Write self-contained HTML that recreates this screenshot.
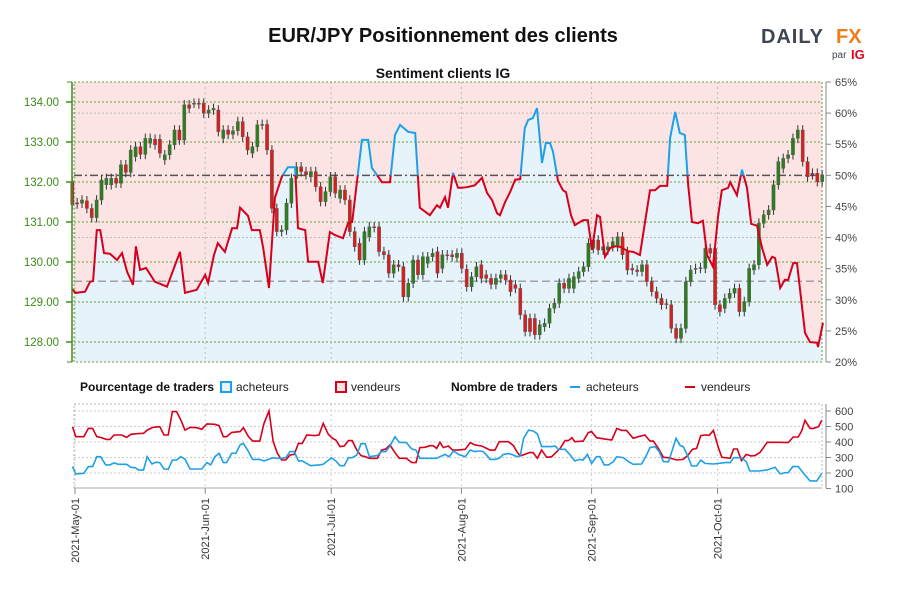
<!DOCTYPE html>
<html><head><meta charset="utf-8"><style>
body{margin:0;background:#fff;width:900px;height:600px;overflow:hidden;font-family:"Liberation Sans",sans-serif}
svg text{font-family:"Liberation Sans",sans-serif}
</style></head><body>
<svg id="c" width="900" height="600" viewBox="0 0 900 600" xmlns="http://www.w3.org/2000/svg">
<text x="443" y="42" text-anchor="middle" font-size="20" font-weight="bold" fill="#111">EUR/JPY Positionnement des clients</text>
<g>
<text x="761" y="43" font-size="20" font-weight="bold" fill="#3e4652" textLength="62" lengthAdjust="spacing">DAILY</text>
<text x="836" y="43" font-size="20" font-weight="bold" fill="#f07d1a">FX</text>
<text x="832" y="58" font-size="10" fill="#3e4652">par</text>
<text x="851" y="59" font-size="13" font-weight="bold" fill="#e2001a">IG</text>
</g>
<text x="443" y="78" text-anchor="middle" font-size="14" font-weight="bold" fill="#111">Sentiment clients IG</text>
<g id="main"></g>
<g id="legend">
<text x="80" y="391" font-size="12" font-weight="bold" fill="#111">Pourcentage de traders</text>
<rect x="221" y="382" width="10" height="10" fill="#e6f3fb" stroke="#1ea0e6" stroke-width="2"/>
<text x="236" y="391" font-size="12" fill="#222">acheteurs</text>
<rect x="336" y="382" width="10" height="10" fill="#fbe3e3" stroke="#d6001c" stroke-width="2"/>
<text x="351" y="391" font-size="12" fill="#222">vendeurs</text>
<text x="451" y="391" font-size="12" font-weight="bold" fill="#111">Nombre de traders</text>
<line x1="570" y1="387" x2="580" y2="387" stroke="#1ea0e6" stroke-width="2"/>
<text x="586" y="391" font-size="12" fill="#222">acheteurs</text>
<line x1="685" y1="387" x2="695" y2="387" stroke="#d6001c" stroke-width="2"/>
<text x="701" y="391" font-size="12" fill="#222">vendeurs</text>
</g>
<g id="bottom"></g>
</svg>
<script>
// ---- data ----
const monthLabels=["2021-May-01","2021-Jun-01","2021-Jul-01","2021-Aug-01","2021-Sep-01","2021-Oct-01"];
const monthDays=[0,31,61,92,123,153];
const priceTicks=[128,129,130,131,132,133,134];
const pctTicks=[20,25,30,35,40,45,50,55,60,65];
const countTicks=[100,200,300,400,500,600];
const sentDays=[-0.7,0.2,2.4,3.6,4.3,5.2,6.0,6.9,8.3,10.0,11.2,12.4,13.8,14.5,15.5,16.9,19.0,21.9,25.0,26.2,29.0,31.0,31.7,33.1,34.0,35.7,37.4,38.6,39.3,41.2,42.1,44.0,44.8,46.2,47.6,49.3,50.7,52.4,53.1,54.8,55.5,57.9,59.0,60.7,61.9,63.8,65.0,66.0,68.3,69.8,70.7,73.1,75.0,76.2,77.4,79.3,81.0,82.1,84.5,86.2,86.9,88.1,88.8,90.0,91.2,92.1,93.3,95.2,96.9,98.1,99.3,100.5,101.2,102.4,103.6,104.8,106.0,107.1,107.9,109.0,110.0,111.2,112.1,113.1,113.8,115.0,116.2,116.9,118.1,119.0,121.0,122.1,123.1,124.3,125.0,126.2,127.4,128.6,129.8,131.7,132.9,134.5,136.9,138.1,139.3,141.0,141.7,142.9,144.0,145.2,146.0,146.9,148.3,149.5,150.5,151.9,153.1,154.0,155.5,156.0,157.6,158.8,160.0,161.0,162.4,163.6,164.8,166.0,166.7,167.9,169.0,169.8,171.0,171.9,173.8,175.0,176.7,176.9,178.1];
const sentPct=[31.7,31.1,31.3,32.9,33.0,41.2,41.2,37.5,37.4,36.4,37.5,34.5,32.4,38.6,34.8,35.1,32.9,32.1,37.7,31.1,31.6,34.0,32.7,37.2,39.1,37.7,41.5,41.5,44.8,43.5,41.2,41.2,38.3,31.9,46.4,49.9,51.3,51.3,41.5,41.2,36.1,36.1,32.7,40.9,40.4,39.9,42.3,42.5,55.7,55.7,51.2,48.9,48.9,56.5,58.1,57.0,56.8,44.8,43.6,45.2,44.8,46.5,44.8,50.4,48.0,48.0,48.1,48.4,49.6,47.2,46.0,43.9,43.6,45.7,47.3,49.3,49.4,57.6,58.9,59.2,60.8,52.0,55.2,55.2,53.8,49.1,47.6,47.3,43.6,42.0,42.8,42.8,38.0,43.6,43.3,36.9,38.3,38.6,38.5,37.8,37.7,37.2,47.6,47.6,48.3,48.3,56.0,60.2,56.8,56.5,48.4,42.5,42.3,42.7,37.2,35.3,43.3,47.6,48.0,48.9,46.8,50.9,48.0,42.2,41.9,38.3,35.6,36.9,36.7,31.9,33.2,33.2,35.9,35.9,24.7,23.2,23.1,22.4,26.3];
const candleFirstDay=-0.65, candleLastDay=177.9;
const opens=[132.01,131.48,131.47,131.53,131.34,131.11,131.55,131.93,131.93,132.09,131.97,132.43,132.24,132.63,132.88,132.69,132.97,133.07,133.07,132.55,132.68,132.93,133.30,133.05,133.93,133.97,133.97,133.97,133.72,133.80,133.80,133.09,133.30,133.19,133.28,133.51,133.13,132.72,132.88,133.43,133.44,132.80,131.34,130.76,130.80,131.47,132.09,132.38,132.26,132.13,132.26,131.88,131.51,131.76,132.13,131.59,131.80,131.55,130.76,130.47,130.05,130.63,130.88,130.88,130.26,130.18,129.72,129.93,129.88,129.13,129.47,130.05,129.68,129.97,130.13,130.26,129.84,130.18,130.18,130.11,130.22,129.82,129.38,129.63,129.93,129.68,129.59,129.44,129.59,129.68,129.55,129.43,129.34,128.68,128.59,128.59,128.18,128.38,128.47,128.84,128.97,129.47,129.34,129.34,129.59,129.76,129.88,130.34,130.55,130.30,130.30,130.38,130.38,130.63,130.26,129.84,129.80,129.76,129.93,129.51,129.26,129.09,128.96,128.93,128.34,128.09,128.34,129.51,129.84,129.84,129.84,130.34,130.34,128.93,128.84,129.09,129.22,129.34,128.76,129.01,129.80,129.93,130.97,131.18,131.30,131.93,132.34,132.59,132.68,133.09,133.30,132.51,132.22,132.22,132.01];
const closes=[131.43,131.45,131.55,131.34,131.11,131.55,132.05,132.09,132.09,131.97,132.43,132.24,132.80,132.88,132.69,133.09,133.09,132.93,132.72,132.68,132.93,133.30,133.05,133.93,133.84,133.97,133.95,133.72,133.80,133.84,133.26,133.30,133.19,133.28,133.51,133.13,132.80,132.88,133.43,133.44,132.80,131.34,130.76,130.80,131.47,132.09,132.38,132.26,132.18,132.26,131.88,131.51,131.76,132.13,131.72,131.80,131.55,130.76,130.38,130.05,130.76,130.88,130.86,130.26,130.18,129.72,129.93,129.88,129.13,129.47,130.05,129.68,130.13,130.13,130.22,129.72,130.18,130.16,130.13,130.22,129.84,129.38,129.63,129.88,129.59,129.59,129.44,129.59,129.68,129.55,129.26,129.34,128.68,128.26,128.26,128.18,128.43,128.47,128.84,128.97,129.47,129.34,129.59,129.63,129.76,129.88,130.47,130.55,130.30,130.38,130.38,130.51,130.63,130.18,129.80,129.80,129.76,129.93,129.51,129.26,129.09,128.93,128.94,128.34,128.09,128.34,129.51,129.80,129.82,129.86,130.34,130.22,128.93,128.76,129.09,129.22,129.34,128.76,129.01,129.84,129.93,130.97,131.18,131.30,131.93,132.51,132.59,132.68,133.09,133.30,132.51,132.13,132.18,132.01,132.18];
const sellDays=[-0.6,0.2,2.1,3.2,4.2,5.2,6.1,7.5,8.3,9.3,11.1,12.3,13.3,15.1,16.3,17.2,18.6,20.2,21.2,22.2,23.2,24.2,25.2,26.2,27.4,29.0,30.2,31.4,33.3,34.3,35.3,36.1,37.3,39.3,40.1,41.3,42.3,44.0,45.0,46.2,47.2,48.2,49.2,50.2,51.2,52.2,53.2,54.1,55.2,57.1,58.1,59.1,60.3,61.3,62.1,63.1,64.1,65.1,66.0,67.1,68.1,69.1,70.1,72.0,73.0,74.0,75.0,76.0,77.2,78.9,80.2,81.2,82.1,83.3,84.5,85.3,86.1,86.9,87.7,88.9,89.9,90.9,92.9,94.1,95.2,96.8,98.0,98.8,100.0,101.0,102.1,103.2,104.4,105.2,106.0,107.1,108.3,109.1,110.1,111.1,112.3,113.5,114.3,115.5,116.7,117.5,118.3,119.0,121.0,122.2,123.0,124.2,126.2,127.8,129.0,130.2,131.3,132.9,134.1,135.7,136.9,137.7,138.9,140.1,141.3,143.3,144.8,146.0,147.0,148.0,149.0,150.0,151.0,152.0,153.2,154.0,156.0,156.8,157.7,158.7,159.8,160.9,161.9,163.1,164.8,165.9,167.9,169.8,171.0,172.2,173.0,173.8,175.0,175.8,177.0,177.8];
const sellVals=[499,434,434,488,488,434,430,417,417,445,445,430,450,454,456,477,495,499,445,445,596,596,542,477,495,492,482,516,514,505,434,434,462,467,492,434,406,406,520,600,402,327,284,284,316,320,391,391,445,441,445,520,450,424,413,370,374,409,409,348,312,305,295,295,348,355,381,338,295,295,267,267,364,366,376,376,359,398,364,374,348,348,353,396,381,374,359,348,348,402,402,402,376,338,310,320,333,331,295,348,301,305,327,359,409,409,428,402,406,460,467,428,419,413,488,475,475,424,434,445,406,406,359,301,299,284,288,316,353,359,441,445,443,475,364,301,295,355,355,280,320,310,312,333,398,398,398,396,432,432,471,540,488,488,499,540];
const buyDays=[-0.6,0.2,2.1,3.2,4.2,5.2,6.1,7.3,8.3,9.3,10.3,12.3,13.3,14.3,15.2,16.3,17.2,18.3,19.2,20.2,21.2,22.2,23.2,24.2,25.2,26.2,27.4,30.2,31.4,32.3,33.3,34.3,35.3,36.1,37.3,38.3,39.3,40.1,41.3,42.3,44.0,45.0,46.2,47.2,48.2,49.2,50.2,51.2,52.2,53.2,54.1,56.1,58.1,59.1,61.1,62.1,63.1,64.1,65.1,66.0,67.1,68.1,69.1,70.1,72.0,73.0,74.0,75.0,76.2,77.2,78.9,80.2,81.2,82.1,86.1,86.9,88.1,89.1,90.1,91.3,92.9,94.1,95.2,96.4,97.2,98.0,98.8,100.0,101.0,102.0,103.2,104.4,105.2,106.0,106.8,108.0,109.1,110.1,111.1,112.3,113.5,114.3,115.1,116.7,117.9,119.0,120.2,121.0,122.0,123.0,124.2,125.0,126.0,127.0,128.2,129.0,130.6,131.8,132.9,134.9,136.1,136.9,138.1,139.1,140.1,141.3,142.1,143.1,144.1,144.8,145.8,146.8,148.0,149.0,150.0,152.0,154.8,156.0,156.8,158.7,159.8,160.7,162.7,164.7,165.9,166.7,167.9,169.1,169.8,170.9,172.2,173.8,175.0,176.6,177.8];
const buyVals=[241,194,198,241,241,305,305,252,252,265,256,256,237,234,219,219,305,258,269,267,226,224,284,284,305,290,226,226,267,252,305,327,267,267,327,327,381,391,338,288,288,278,290,299,295,295,299,338,338,278,278,247,252,256,299,278,247,247,299,299,316,389,389,305,312,338,338,374,434,398,396,355,348,295,295,305,320,305,342,320,305,348,338,342,338,316,288,288,295,320,325,316,305,310,424,477,471,452,370,370,370,374,353,353,316,278,288,284,320,262,305,305,252,252,273,305,299,273,256,258,316,364,370,338,273,273,338,424,376,370,316,245,245,284,262,258,267,267,299,299,273,213,213,219,230,237,194,202,202,241,241,187,149,149,198];

// ---- scales ----
const NS="http://www.w3.org/2000/svg";
const X0=74,X1=822,Y0=82,Y1=362;
const xS=d=>75+4.2*d;
const yP=p=>342-(p-128)*40;
const yPct=v=>362-(v-20)*(280/45);
const yC=v=>411+(600-v)*0.155;
function mk(parent,tag,attrs){const e=document.createElementNS(NS,tag);for(const k in attrs)e.setAttribute(k,attrs[k]);parent.appendChild(e);return e;}
const main=document.getElementById('main');



const defs=mk(main,'defs',{});
const cp=mk(defs,'clipPath',{id:'plotclip'});mk(cp,'rect',{x:X0,y:Y0,width:X1-X0,height:Y1-Y0});
const cpA=mk(defs,'clipPath',{id:'above50'});mk(cpA,'rect',{x:X0-5,y:0,width:X1-X0+10,height:yPct(50)});
const cpB=mk(defs,'clipPath',{id:'below50'});mk(cpB,'rect',{x:X0-5,y:yPct(50),width:X1-X0+10,height:400});
const bg=mk(main,'rect',{x:X0,y:Y0,width:X1-X0,height:Y1-Y0,fill:'#fce4e4'});


let pts=sentDays.map((d,i)=>xS(d).toFixed(1)+','+yPct(sentPct[i]).toFixed(1));
const area=mk(main,'polygon',{points:xS(sentDays[0])+','+Y1+' '+pts.join(' ')+' '+xS(sentDays[sentDays.length-1])+','+Y1,fill:'#e6f3fb','clip-path':'url(#plotclip)'});



priceTicks.forEach(p=>{const l=mk(main,'line',{x1:X0,x2:X1,y1:yP(p),y2:yP(p),stroke:'#6a9f3a','stroke-width':1,'stroke-dasharray':'2,2'});

});
[60,40].forEach(v=>{const l=mk(main,'line',{x1:X0,x2:X1,y1:yPct(v),y2:yPct(v),stroke:'#bbb','stroke-width':1,'stroke-dasharray':'2,2'});

});
monthDays.forEach(d=>{const l=mk(main,'line',{x1:xS(d),x2:xS(d),y1:Y0,y2:Y1,stroke:'#bbb','stroke-width':1,'stroke-dasharray':'2,3'});

});
const fr=mk(main,'rect',{x:X0,y:Y0,width:X1-X0,height:Y1-Y0,fill:'none',stroke:'#6a9f3a','stroke-dasharray':'2,2'});



const r50=mk(main,'line',{x1:X0,x2:X1,y1:yPct(50),y2:yPct(50),stroke:'#555','stroke-width':1.5,'stroke-dasharray':'8,3,2,3'});


const rp=mk(main,'line',{x1:X0,x2:X1,y1:yP(129.52),y2:yP(129.52),stroke:'#888','stroke-width':1.2,'stroke-dasharray':'8,4'});



const cg=mk(main,'g',{});


const n=opens.length;
for(let i=0;i<n;i++){
  const d=candleFirstDay+(candleLastDay-candleFirstDay)*i/(n-1);
  const x=xS(d),o=opens[i],c=closes[i];
  const up=c>=o,col=up?'#2e7d1e':'#d42020';
  const hi=Math.max(o,c)+0.12,lo=Math.min(o,c)-0.12;
  const w=mk(cg,'line',{x1:x,x2:x,y1:yP(hi),y2:yP(lo),stroke:'#333','stroke-width':1});
  
  
  const top=yP(Math.max(o,c)),h=Math.max(1,Math.abs(yP(o)-yP(c)));
  const b=mk(cg,'rect',{x:x-1.6,y:top,width:3.2,height:h,fill:col,stroke:'#555','stroke-width':0.4});
  
  
}

const lineA=mk(main,'polyline',{points:pts.join(' '),fill:'none',stroke:'#1ea0e6','stroke-width':2,'clip-path':'url(#above50)'});


const lineB=mk(main,'polyline',{points:pts.join(' '),fill:'none',stroke:'#d6001c','stroke-width':2,'clip-path':'url(#below50)'});



const la=mk(main,'line',{x1:72,x2:72,y1:Y0,y2:Y1,stroke:'#3d8c1a','stroke-width':1.5});


mk(main,'line',{x1:67,x2:72,y1:Y0,y2:Y0,stroke:'#3d8c1a'});mk(main,'line',{x1:67,x2:72,y1:Y1,y2:Y1,stroke:'#3d8c1a'});
priceTicks.forEach(p=>{mk(main,'line',{x1:66,x2:72,y1:yP(p),y2:yP(p),stroke:'#3d8c1a','stroke-width':1.5});
const t=mk(main,'text',{x:59,y:yP(p)+4,'text-anchor':'end','font-size':11.5,fill:'#3d8c1a'});t.textContent=p.toFixed(2);

});
const ra=mk(main,'line',{x1:826,x2:826,y1:Y0,y2:Y1,stroke:'#888'});


pctTicks.forEach(v=>{mk(main,'line',{x1:826,x2:831,y1:yPct(v),y2:yPct(v),stroke:'#888'});
const t=mk(main,'text',{x:835,y:yPct(v)+4,'font-size':11,fill:'#444'});t.textContent=v+'%';

});

// ---- bottom panel ----
const bot=document.getElementById('bottom');


const BY0=404,BY1=488;
countTicks.forEach(v=>{if(v>100){mk(bot,'line',{x1:X0,x2:X1,y1:yC(v),y2:yC(v),stroke:'#ccc','stroke-dasharray':'2,2'});}
mk(bot,'line',{x1:826,x2:831,y1:yC(v),y2:yC(v),stroke:'#888'});
const t=mk(bot,'text',{x:835,y:yC(v)+4,'font-size':11,fill:'#444'});t.textContent=v;

});
monthDays.forEach(d=>mk(bot,'line',{x1:xS(d),x2:xS(d),y1:BY0,y2:BY1,stroke:'#ccc','stroke-dasharray':'2,3'}));
mk(bot,'rect',{x:X0,y:BY0,width:X1-X0,height:BY1-BY0,fill:'none',stroke:'#bbb','stroke-dasharray':'2,2'});
mk(bot,'line',{x1:826,x2:826,y1:BY0,y2:BY1,stroke:'#888'});
mk(bot,'line',{x1:X0,x2:X1,y1:BY1,y2:BY1,stroke:'#aaa'});
const sl=mk(bot,'polyline',{points:sellDays.map((d,i)=>xS(d).toFixed(1)+','+yC(sellVals[i]).toFixed(1)).join(' '),fill:'none',stroke:'#d6001c','stroke-width':1.6});


const bl=mk(bot,'polyline',{points:buyDays.map((d,i)=>xS(d).toFixed(1)+','+yC(buyVals[i]).toFixed(1)).join(' '),fill:'none',stroke:'#1ea0e6','stroke-width':1.6});


monthDays.forEach((d,i)=>{const x=xS(d);mk(bot,'line',{x1:x,x2:x,y1:BY1,y2:BY1+6,stroke:'#888'});
const t=mk(bot,'text',{x:0,y:0,'font-size':11,fill:'#333','text-anchor':'end',transform:'translate('+(x+4)+','+(BY1+10)+') rotate(-90)'});t.textContent=monthLabels[i];

});
</script>
</body></html>
